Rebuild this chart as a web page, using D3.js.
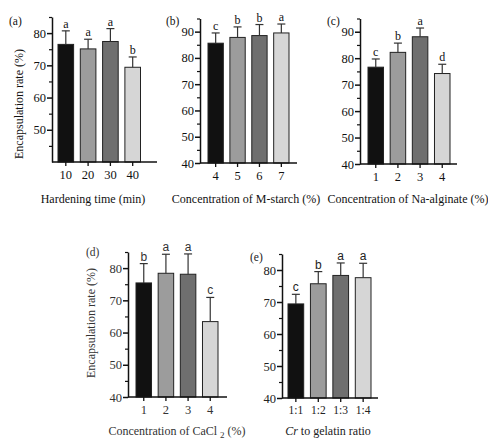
<!DOCTYPE html>
<html>
<head>
<meta charset="utf-8">
<script src="https://cdn.jsdelivr.net/npm/d3@7"></script>
<style>
  body { margin: 0; background: #fff; }
  svg { display: block; }
</style>
</head>
<body>
<svg id="chart" width="488" height="439"></svg>
<script>
// values (mean, upper error, significance letter)
var groupsA = ["10", "20", "30", "40"];
var meansA = [76.5, 75.1, 77.4, 69.4];
var errA = [4.2, 3.0, 4.0, 3.2];
var lettersA = ["a", "a", "a", "b"];

var groupsB = ["4", "5", "6", "7"];
var meansB = [85.6, 87.8, 88.5, 89.5];
var errB = [3.9, 4.0, 4.2, 3.4];
var lettersB = ["c", "b", "b", "a"];

var groupsC = ["1", "2", "3", "4"];
var meansC = [76.6, 82.2, 88.1, 74.2];
var errC = [3.1, 3.5, 3.3, 3.5];
var lettersC = ["c", "b", "a", "d"];

var groupsD = ["1", "2", "3", "4"];
var meansD = [75.4, 78.4, 78.1, 63.4];
var errD = [6.0, 5.9, 6.3, 7.5];
var lettersD = ["b", "a", "a", "c"];

var groupsE = ["1:1", "1:2", "1:3", "1:4"];
var meansE = [69.4, 75.7, 78.3, 77.6];
var errE = [3.0, 3.8, 3.9, 4.5];
var lettersE = ["c", "b", "a", "a"];

var barColors = ["#111111", "#9c9c9c", "#6f6f6f", "#d6d6d6"];
var serif = "'Liberation Serif', 'DejaVu Serif', serif";
var sans = "'Liberation Sans', Arial, sans-serif";

var svg = d3.select("#chart");

function drawPanel(p) {
  var g = svg.append("g");
  var ink = p.ink || "#111";

  var y = d3.scaleLinear().domain([40, p.yMax]).range([p.base, p.top]);
  var x = d3.scaleBand().domain(p.groups).range(p.bars).paddingInner(0.3);

  // bars
  g.selectAll("rect.bar").data(p.means).enter().append("rect")
    .attr("class", "bar")
    .attr("x", function (d, i) { return x(p.groups[i]); })
    .attr("y", function (d) { return y(d); })
    .attr("width", x.bandwidth())
    .attr("height", function (d) { return y(40) - y(d); })
    .attr("fill", function (d, i) { return barColors[i]; })
    .attr("stroke", "#222")
    .attr("stroke-width", 1);

  // upper error bars
  var eb = g.selectAll("g.err").data(p.means).enter().append("g")
    .attr("transform", function (d, i) { return "translate(" + (x(p.groups[i]) + x.bandwidth() / 2) + ",0)"; });
  eb.append("line")
    .attr("y1", function (d) { return y(d); })
    .attr("y2", function (d, i) { return y(d + p.err[i]); })
    .attr("stroke", "#333").attr("stroke-width", 1.2);
  eb.append("line")
    .attr("x1", -4).attr("x2", 4)
    .attr("y1", function (d, i) { return y(d + p.err[i]); })
    .attr("y2", function (d, i) { return y(d + p.err[i]); })
    .attr("stroke", "#333").attr("stroke-width", 1.2);
  eb.append("text")
    .attr("y", function (d, i) { return y(d + p.err[i]) - 3; })
    .attr("text-anchor", "middle")
    .attr("font-family", p.letterFont)
    .attr("font-size", 12)
    .attr("fill", ink)
    .text(function (d, i) { return p.letters[i]; });

  // y axis: labelled ticks every 10, minor every 5
  var majors = d3.range(p.firstLabel, p.yMax + 0.1, 10);
  var minors = d3.range(45, p.yMax + 0.1, 10);
  var yAxis = g.append("g")
    .attr("transform", "translate(" + p.ox + ",0)")
    .call(d3.axisLeft(y).tickValues(majors).tickSize(5).tickSizeOuter(0).tickFormat(d3.format("d")));
  yAxis.select(".domain").attr("stroke", "#111").attr("stroke-width", 1.5);
  yAxis.selectAll(".tick line").attr("stroke", "#111").attr("stroke-width", 1.5);
  yAxis.selectAll(".tick text")
    .attr("font-family", serif).attr("font-size", 12.5).attr("fill", ink).attr("x", -6);
  g.append("g")
    .attr("transform", "translate(" + p.ox + ",0)")
    .call(d3.axisLeft(y).tickValues(minors).tickSize(3).tickFormat(""))
    .call(function (s) { s.select(".domain").remove(); })
    .selectAll(".tick line").attr("stroke", "#111").attr("stroke-width", 1.2);

  // x axis
  var xAxis = g.append("g")
    .attr("transform", "translate(0," + p.base + ")")
    .call(d3.axisBottom(x).tickSize(4).tickSizeOuter(0));
  xAxis.select(".domain").remove();
  xAxis.append("line")
    .attr("x1", p.ox).attr("x2", p.axisEnd)
    .attr("stroke", "#111").attr("stroke-width", 1.5);
  xAxis.selectAll(".tick line").attr("stroke", "#111").attr("stroke-width", 1.3);
  xAxis.selectAll(".tick text")
    .attr("font-family", serif).attr("font-size", p.xTickSize || 12.5).attr("fill", ink).attr("y", 8);

  // panel tag
  g.append("text")
    .attr("x", p.tag[0]).attr("y", p.tag[1])
    .attr("font-family", serif).attr("font-size", 11.5).attr("fill", ink)
    .text(p.name);

  // x title
  var xt = g.append("text")
    .attr("x", p.xTitle[0]).attr("y", p.xTitle[1])
    .attr("text-anchor", "middle")
    .attr("font-family", serif).attr("font-size", 12).attr("fill", ink);
  p.xTitleParts.forEach(function (part) {
    var t = xt.append("tspan").text(part.t);
    if (part.italic) t.attr("font-style", "italic");
    if (part.sub) t.attr("font-size", 9).attr("dy", 3);
    if (part.after) t.attr("dy", -3);
  });

  // y title
  if (p.yTitle) {
    g.append("text")
      .attr("transform", "translate(" + p.yTitle[0] + "," + p.yTitle[1] + ") rotate(-90)")
      .attr("text-anchor", "middle")
      .attr("font-family", serif).attr("font-size", 12).attr("fill", ink)
      .text("Encapsulation rate (%)");
  }
}

drawPanel({
  name: "(a)", groups: groupsA, means: meansA, err: errA, letters: lettersA,
  yMax: 85, firstLabel: 50, base: 162, top: 17, ox: 52, bars: [58, 140.5], axisEnd: 157,
  tag: [9, 25], xTitle: [93, 203], xTitleParts: [{ t: "Hardening time (min)" }],
  yTitle: [23, 104], letterFont: serif
});

drawPanel({
  name: "(b)", groups: groupsB, means: meansB, err: errB, letters: lettersB,
  yMax: 95, firstLabel: 40, base: 163, top: 18.5, ox: 200, bars: [208, 289], axisEnd: 297,
  tag: [166, 25], xTitle: [246, 203], xTitleParts: [{ t: "Concentration of M-starch (%)" }],
  letterFont: serif
});

drawPanel({
  name: "(c)", groups: groupsC, means: meansC, err: errC, letters: lettersC,
  yMax: 95, firstLabel: 40, base: 164, top: 18.5, ox: 360, bars: [368, 450], axisEnd: 457,
  tag: [327, 25], xTitle: [408, 203], xTitleParts: [{ t: "Concentration of Na-alginate (%)" }],
  letterFont: serif
});

drawPanel({
  name: "(d)", groups: groupsD, means: meansD, err: errD, letters: lettersD,
  yMax: 85, firstLabel: 40, base: 397, top: 252, ox: 128, bars: [136, 218], axisEnd: 227,
  tag: [86, 256], xTitle: [177, 435],
  xTitleParts: [{ t: "Concentration of CaCl " }, { t: "2", sub: true }, { t: " (%)", after: true }],
  yTitle: [95, 323], letterFont: sans, ink: "#333"
});

drawPanel({
  name: "(e)", groups: groupsE, means: meansE, err: errE, letters: lettersE,
  yMax: 85, firstLabel: 40, base: 398, top: 254, ox: 282, bars: [288, 371], axisEnd: 378,
  tag: [250, 261], xTitle: [328, 435], xTickSize: 11.5,
  xTitleParts: [{ t: "Cr", italic: true }, { t: " to gelatin ratio" }],
  letterFont: sans, ink: "#222"
});
</script>
</body>
</html>
